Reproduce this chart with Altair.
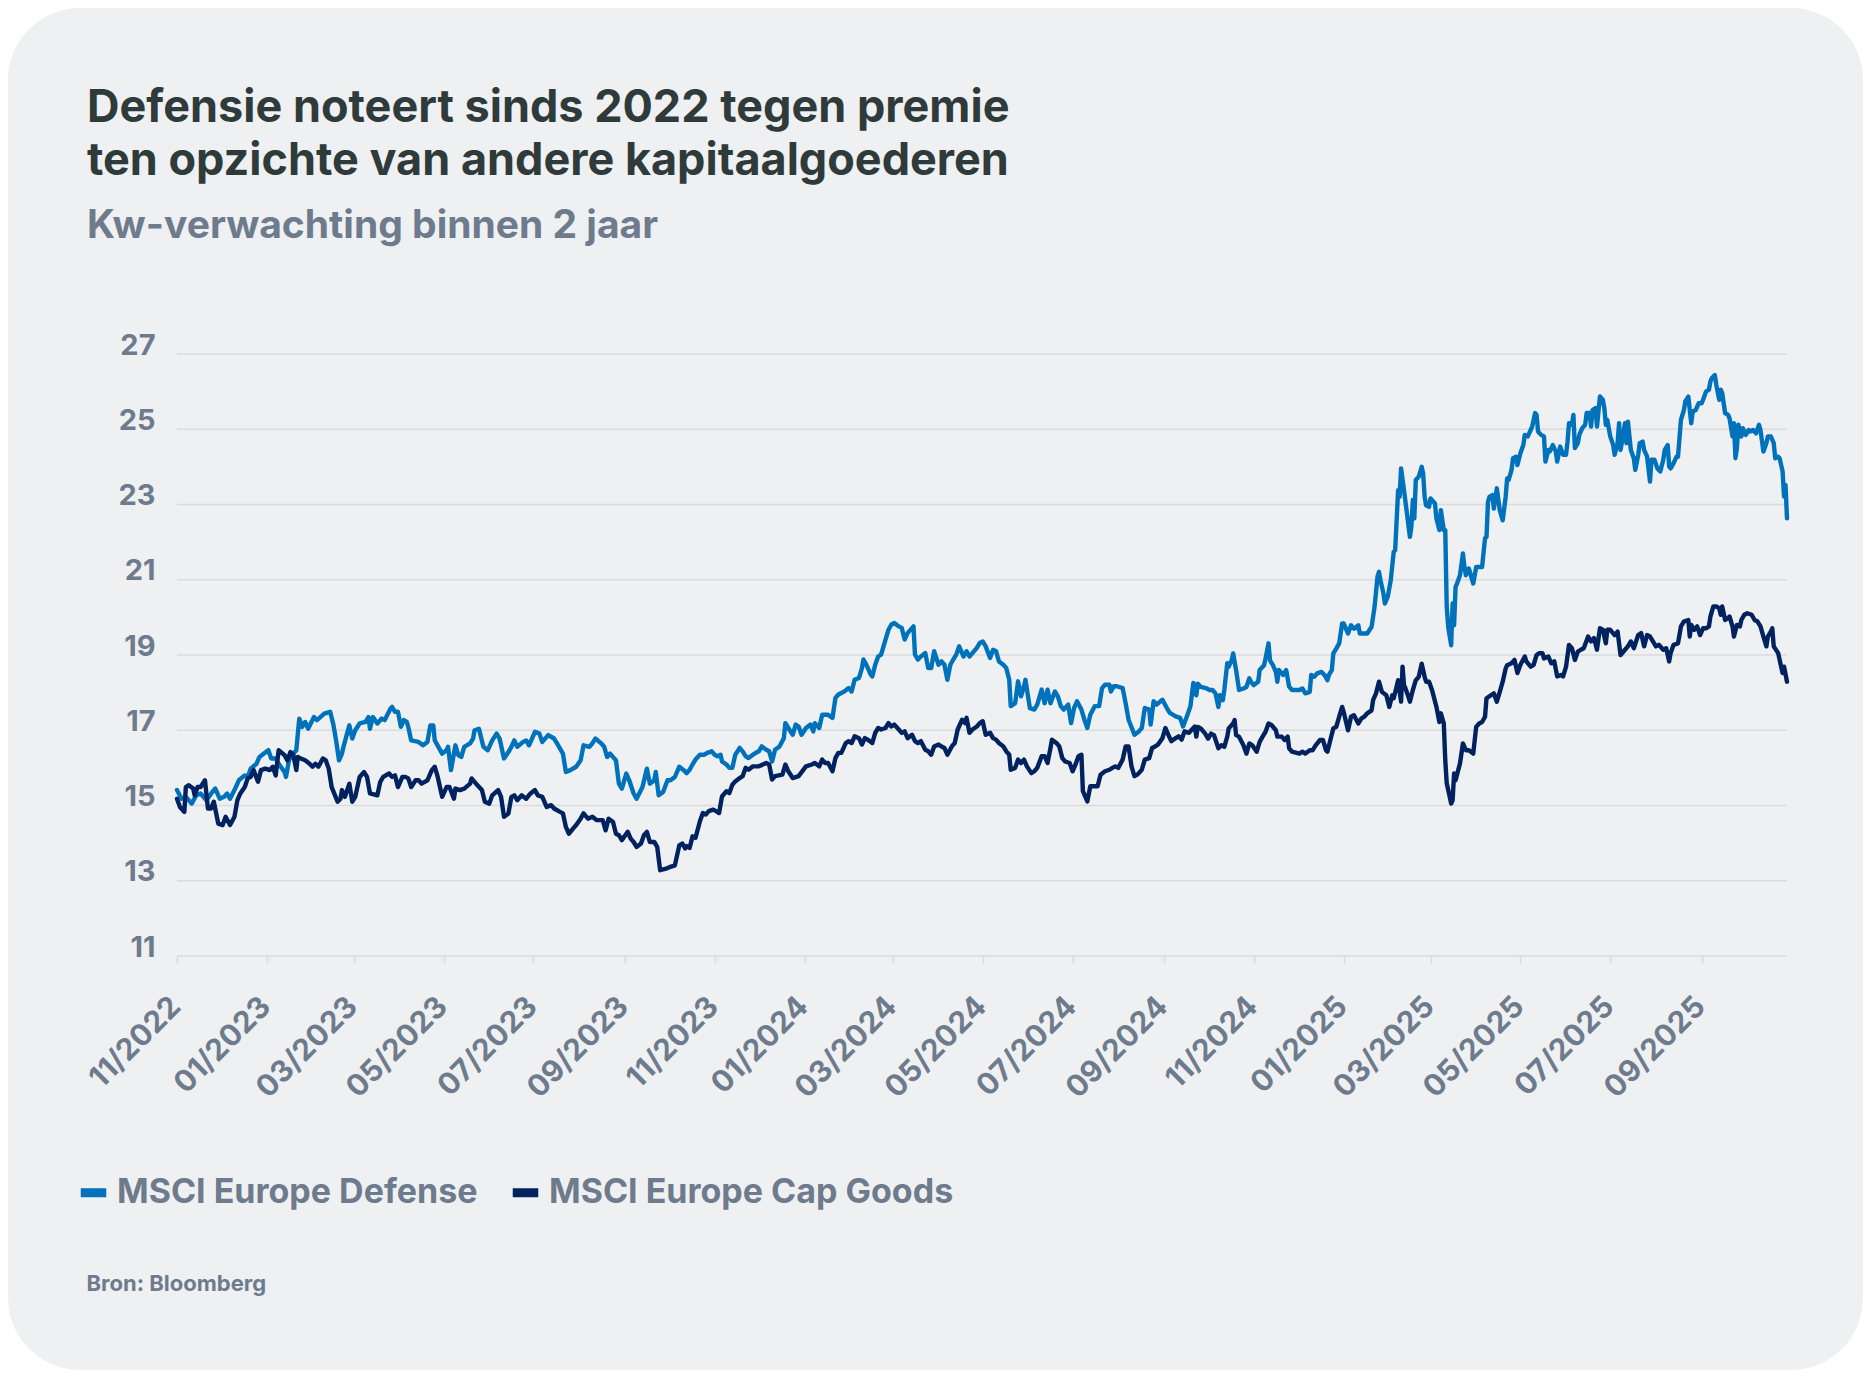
import altair as alt
import pandas as pd

# ---------------- data ----------------
START = "2022-11-01"          # day 0 of the day offsets below
END = "2025-10-29"

# MSCI Europe Defense: days since START, forward P/E
def_day = [
    0, 3, 6, 10, 13, 16, 20, 24, 26, 29,
    32, 34, 36, 39, 42, 46, 48, 50, 54, 56,
    59, 62, 64, 67, 69, 73, 74, 76, 79, 81,
    83, 85, 87, 89, 93, 95, 100, 104, 106, 108,
    110, 112, 113, 117, 119, 121, 124, 128, 130, 131,
    133, 136, 139, 141, 145, 146, 148, 150, 152, 154,
    156, 157, 159, 164, 167, 170, 172, 174, 175, 180,
    183, 184, 186, 189, 191, 193, 195, 199, 201, 202,
    205, 208, 211, 214, 217, 219, 222, 225, 227, 229,
    231, 235, 237, 239, 243, 246, 248, 252, 256, 258,
    262, 264, 267, 271, 274, 276, 280, 282, 284, 288,
    290, 292, 294, 298, 300, 302, 305, 307, 310, 312,
    316, 319, 321, 324, 325, 327, 330, 333, 335, 338,
    341, 344,
    346, 348, 350, 352, 355, 358, 360, 363, 365, 367,
    369, 370, 373, 375, 377, 379, 382, 384, 386, 388,
    391, 393, 395, 397, 400, 402, 404, 406, 409, 412,
    413, 415, 418, 420, 422, 424, 427, 430, 432, 433,
    436, 438, 440, 442, 445, 447, 449, 453, 456, 458,
    460, 463, 465, 466, 468, 471, 472, 474, 476, 478,
    481, 483, 485, 487, 490, 492, 494, 496, 500, 501,
    503, 505, 508, 510, 512, 514, 517, 519, 521, 523,
    525, 527, 529, 531, 534, 536, 538, 540, 543, 545,
    547, 549, 552, 554, 556, 558, 561, 563, 565, 566,
    569, 571, 573, 575, 576, 579, 582, 584, 587, 589,
    591, 593, 596, 598, 600, 602, 605, 607, 609, 611,
    614, 616, 618, 620, 623, 626, 628, 630, 633, 634,
    636, 638, 642, 644, 646, 650, 653, 655, 657, 660,
    661, 663, 665, 669, 672, 674, 678, 681, 683, 686,
    688, 690,
    692, 693, 695, 699, 701, 703, 705, 707, 708, 710,
    711, 713, 714, 716, 717, 719, 721, 724, 726, 728,
    729, 731, 734, 735, 738, 739, 741, 742, 744, 746,
    747, 748, 751, 753, 755, 757, 762, 764, 766, 769,
    770, 772, 774, 777, 779, 781, 782, 784, 785, 787,
    789, 791, 792, 795, 797, 799, 802, 803, 805, 808,
    811, 813, 815, 816, 817, 819, 820, 822, 824, 826,
    827, 829, 830, 831, 833, 835, 837, 838, 839, 840,
    841, 843, 845, 846, 847, 848, 850, 851, 854, 855,
    857, 858, 860, 861, 862, 863, 865, 866, 867, 868,
    869, 871, 873, 874, 875, 877, 880, 882, 884, 886,
    888, 889, 890, 891, 893, 894, 896, 898, 900, 902,
    903,
    904, 906, 907, 909, 910, 912, 914, 915, 917, 919,
    920, 922, 923, 924, 926, 928, 929, 931, 932, 934,
    936, 937, 939, 941, 943, 944, 945, 947, 948, 949,
    951, 952, 954, 956, 957, 959, 960, 961, 963, 964,
    966, 968, 969, 970, 971, 973, 975, 976, 978, 979,
    980, 981, 983, 984, 985, 987, 989, 990, 992, 993,
    995, 996, 998, 1000, 1001, 1003, 1005, 1007, 1009, 1010,
    1012, 1013, 1014, 1016, 1018, 1019, 1021, 1023, 1024, 1026,
    1027, 1028, 1029, 1031, 1033, 1035, 1036, 1038, 1040, 1041,
    1042, 1044, 1045, 1047, 1048, 1049, 1051, 1053, 1054, 1056,
    1057, 1058, 1059, 1060, 1062, 1063, 1065, 1067, 1068, 1070,
    1072, 1074, 1075, 1077, 1079, 1080, 1082, 1084, 1085, 1087,
    1088, 1090, 1091, 1092, 1093,
]
def_val = [
    15.41, 15.18, 15.23, 15.05, 15.27, 15.32, 15.14, 15.36, 15.45, 15.18,
    15.23, 15.32, 15.18, 15.41, 15.67, 15.80, 15.76, 15.98, 16.11, 16.29,
    16.38, 16.47, 16.25, 16.25, 16.11, 15.89, 15.76, 16.20, 16.38, 16.47,
    17.31, 17.09, 17.22, 17.04, 17.35, 17.27, 17.44, 17.49, 17.18, 16.73,
    16.20, 16.38, 16.56, 17.13, 16.78, 17.00, 17.18, 17.22, 17.35, 17.04,
    17.35, 17.18, 17.31, 17.27, 17.58, 17.62, 17.49, 17.49, 17.09, 17.27,
    17.22, 17.09, 16.73, 16.69, 16.60, 16.69, 17.13, 17.13, 16.73, 16.38,
    16.47, 16.56, 15.94, 16.60, 16.34, 16.29, 16.56, 16.65, 16.78, 17.00,
    17.04, 16.56, 16.47, 16.73, 16.91, 16.78, 16.25, 16.42, 16.56, 16.73,
    16.56, 16.69, 16.73, 16.60, 16.96, 16.91, 16.69, 16.87, 16.78, 16.65,
    16.38, 15.89, 15.94, 16.03, 16.20, 16.60, 16.56, 16.65, 16.78, 16.65,
    16.56, 16.29, 16.38, 16.20, 15.58, 15.45, 15.85, 15.67, 15.32, 15.18,
    15.49, 15.98, 15.58, 15.67, 15.89, 15.27, 15.36, 15.67, 15.67, 15.76,
    16.03, 15.94,
    15.86, 15.95, 16.09, 16.22, 16.35, 16.35, 16.40, 16.44, 16.35, 16.31,
    16.35, 16.17, 16.09, 16.00, 16.00, 16.35, 16.53, 16.44, 16.31, 16.26,
    16.35, 16.40, 16.44, 16.57, 16.48, 16.44, 16.17, 16.48, 16.57, 16.79,
    17.19, 17.06, 16.88, 17.15, 17.10, 16.88, 17.06, 17.15, 16.97, 17.19,
    17.06, 17.41, 17.41, 17.41, 17.33, 17.86, 17.95, 18.03, 18.12, 18.03,
    18.34, 18.39, 18.65, 18.88, 18.74, 18.48, 18.43, 18.74, 18.96, 19.01,
    19.41, 19.67, 19.81, 19.85, 19.76, 19.72, 19.41, 19.58, 19.76, 19.01,
    18.88, 18.96, 19.05, 18.65, 18.65, 19.10, 18.74, 18.83, 18.74, 18.34,
    18.74, 18.88, 19.01, 19.23, 18.96, 19.10, 18.96, 19.05, 19.19, 19.32,
    19.36, 19.23, 18.92, 19.14, 19.10, 18.83, 18.74, 18.65, 18.34, 17.64,
    17.72, 18.30, 17.90, 18.17, 18.34, 17.59, 17.55, 17.68, 18.08, 17.72,
    18.08, 17.72, 18.03, 17.90, 17.64, 17.55, 17.68, 17.19, 17.59, 17.77,
    17.55, 17.28, 17.06, 17.41, 17.64, 17.64, 18.12, 18.21, 18.21, 18.03,
    18.17, 18.17, 18.12, 17.72, 17.28, 16.88, 16.97, 17.06, 17.59, 17.55,
    17.15, 17.77, 17.68, 17.81, 17.59, 17.46, 17.37, 17.33, 17.10, 17.41,
    17.64, 18.26,
    17.93, 18.24, 18.15, 18.11, 18.07, 18.07, 17.98, 17.62, 17.93, 17.80,
    18.07, 18.78, 18.69, 18.86, 19.04, 18.60, 18.07, 18.11, 18.15, 18.38,
    18.29, 18.20, 18.29, 18.60, 18.73, 18.91, 19.31, 18.86, 18.73, 18.55,
    18.29, 18.60, 18.47, 18.60, 18.16, 18.07, 18.07, 18.11, 17.98, 18.02,
    18.47, 18.42, 18.51, 18.55, 18.47, 18.33, 18.47, 18.60, 19.04, 19.17,
    19.31, 19.84, 19.84, 19.57, 19.79, 19.70, 19.79, 19.57, 19.57, 19.57,
    19.75, 20.28, 21.08, 21.21, 20.99, 20.64, 20.37, 20.55, 20.99, 21.74,
    21.79, 23.38, 23.20, 23.96, 23.38, 22.76, 22.14, 22.41, 23.12, 22.63,
    23.65, 23.74, 24.00, 23.82, 23.20, 22.98, 22.94, 23.16, 23.03, 22.63,
    22.32, 22.85, 22.32, 22.32, 20.28, 19.75, 19.26, 20.37, 19.79, 20.81,
    20.90, 21.12, 21.70, 21.34, 21.12, 21.30, 20.90, 21.34, 21.34, 21.34,
    22.10, 22.14, 23.07, 23.20, 23.25, 22.89, 23.43, 22.85, 22.58, 23.20,
    23.69,
    23.65, 23.92, 24.23, 24.27, 24.05, 24.36, 24.58, 24.85, 24.81, 24.98,
    25.07, 25.43, 25.38, 24.94, 24.85, 24.81, 24.14, 24.45, 24.41, 24.58,
    24.41, 24.14, 24.54, 24.32, 24.32, 24.67, 25.16, 25.12, 25.38, 24.50,
    24.63, 24.85, 25.03, 25.12, 25.43, 25.43, 25.07, 25.51, 25.56, 25.07,
    25.87, 25.78, 25.56, 25.12, 25.25, 24.81, 24.58, 24.32, 24.63, 25.16,
    24.45, 24.67, 25.16, 24.63, 25.20, 24.45, 24.23, 23.92, 24.32, 24.63,
    24.67, 24.45, 24.27, 23.61, 24.19, 24.19, 23.96, 23.88, 24.19, 24.45,
    24.58, 24.01, 23.96, 24.10, 24.27, 24.27, 25.25, 25.51, 25.74, 25.87,
    25.51, 25.16, 25.47, 25.51, 25.69, 25.69, 25.78, 26.00, 26.05, 26.27,
    26.36, 26.44, 26.18, 25.78, 26.05, 25.96, 25.43, 25.38, 25.29, 24.81,
    25.16, 24.23, 24.50, 25.12, 24.81, 25.03, 24.85, 24.98, 24.94, 24.98,
    24.89, 25.12, 24.98, 24.41, 24.63, 24.81, 24.81, 24.63, 24.23, 24.27,
    24.23, 23.88, 23.21, 23.52, 22.63,
]

# MSCI Europe Cap Goods: days since START, forward P/E
cap_day = [
    0, 2, 4, 5, 6, 8, 11, 12, 14, 16,
    19, 21, 23, 25, 28, 31, 33, 36, 39, 41,
    43, 46, 48, 50, 52, 55, 57, 60, 63, 65,
    67, 69, 73, 75, 77, 79, 81, 82, 84, 87,
    90, 92, 94, 96, 99, 101, 103, 105, 109, 111,
    112, 114, 117, 119, 121, 124, 127, 129, 131, 136,
    138, 140, 144, 146, 148, 150, 153, 155, 157, 159,
    162, 164, 166, 170, 173, 175, 177, 180, 183, 185,
    188, 189, 192, 195, 199, 200, 203, 207, 209, 212,
    214, 218, 220, 222, 225, 227, 229, 231, 234, 237,
    240, 243, 245, 248, 251, 254, 256, 260, 262, 264,
    266, 269, 271, 274, 276, 279, 282, 285, 289, 291,
    293, 296, 298, 300, 302, 306, 308, 310, 312, 315,
    317, 319, 321, 324, 326, 328, 332, 335, 338, 341,
    343, 345,
    346, 348, 350, 352, 355, 357, 359, 361, 364, 366,
    368, 370, 373, 375, 377, 379, 382, 384, 386, 388,
    391, 395, 400, 402, 404, 406, 411, 413, 415, 418,
    422, 427, 431, 433, 436, 438, 440, 442, 445, 447,
    449, 451, 454, 456, 458, 460, 463, 465, 467, 469,
    472, 474, 476, 478, 481, 483, 485, 487, 490, 492,
    494, 496, 499, 501, 503, 505, 508, 510, 512, 514,
    517, 519, 521, 523, 526, 528, 530, 533, 535, 536,
    538, 540, 543, 545, 547, 549, 552, 554, 556, 558,
    561, 563, 565, 566, 569, 571, 573, 575, 577, 580,
    582, 584, 587, 589, 591, 593, 594, 597, 599, 601,
    603, 606, 608, 610, 612, 614, 615, 617, 618, 620,
    623, 625, 627, 630, 633, 635, 637, 639, 642, 644,
    646, 648, 650, 652, 655, 657, 660, 662, 664, 666,
    669, 671, 673, 675, 678, 680, 682, 684, 687, 689,
    691,
    692, 693, 695, 698, 700, 702, 704, 707, 709, 711,
    713, 714, 717, 718, 719, 721, 724, 726, 728, 730,
    733, 735, 737, 739, 741, 743, 746, 747, 750, 752,
    754, 755, 757, 762, 764, 766, 769, 771, 773, 776,
    778, 780, 781, 783, 785, 787, 789, 791, 792, 795,
    797, 799, 802, 804, 806, 808, 811, 812, 814, 816,
    818, 821, 823, 825, 826, 828, 829, 831, 832, 833,
    834, 836, 837, 839, 841, 843, 845, 847, 848, 850,
    852, 855, 857, 858, 860, 861, 862, 864, 865, 866,
    867, 868, 871, 873, 875, 877, 880, 882, 884, 886,
    888, 889, 892, 894, 896, 898, 900, 902, 903,
    906, 908, 910, 912, 915, 916, 919, 921, 923, 925,
    927, 928, 931, 933, 935, 937, 940, 941, 943, 945,
    947, 949, 951, 953, 955, 958, 960, 962, 964, 966,
    968, 970, 971, 973, 976, 978, 980, 983, 985, 987,
    989, 992, 994, 996, 998, 1000, 1002, 1004, 1006, 1009,
    1011, 1013, 1014, 1016, 1019, 1021, 1023, 1026, 1027, 1028,
    1030, 1032, 1034, 1036, 1038, 1040, 1041, 1043, 1045, 1047,
    1048, 1049, 1051, 1053, 1054, 1056, 1057, 1059, 1061, 1062,
    1064, 1066, 1069, 1071, 1073, 1075, 1077, 1079, 1080, 1082,
    1083, 1084, 1087, 1088, 1090, 1091, 1093,
]
cap_val = [
    15.18, 14.96, 14.87, 14.83, 15.49, 15.54, 15.45, 15.27, 15.49, 15.49,
    15.67, 14.92, 14.92, 15.10, 14.52, 14.48, 14.70, 14.48, 14.70, 15.14,
    15.32, 15.49, 15.72, 15.76, 15.94, 15.63, 15.94, 15.98, 15.94, 16.03,
    15.80, 16.47, 16.34, 16.20, 16.42, 16.34, 15.94, 16.29, 16.25, 16.20,
    16.11, 16.03, 16.11, 16.03, 16.25, 16.20, 15.98, 15.49, 15.10, 15.18,
    15.41, 15.23, 15.58, 15.10, 15.23, 15.76, 15.89, 15.76, 15.32, 15.27,
    15.63, 15.76, 15.85, 15.76, 15.80, 15.49, 15.76, 15.76, 15.72, 15.49,
    15.67, 15.67, 15.58, 15.67, 15.94, 16.03, 15.76, 15.23, 15.49, 15.49,
    15.18, 15.45, 15.41, 15.45, 15.58, 15.72, 15.58, 15.41, 15.10, 15.05,
    15.27, 15.41, 15.23, 14.70, 14.79, 15.23, 15.27, 15.14, 15.27, 15.18,
    15.32, 15.41, 15.27, 15.23, 14.96, 15.01, 14.92, 14.83, 14.79, 14.43,
    14.25, 14.39, 14.48, 14.65, 14.79, 14.65, 14.70, 14.61, 14.61, 14.34,
    14.65, 14.56, 14.25, 14.21, 14.08, 14.30, 14.12, 14.03, 13.90, 13.99,
    14.21, 14.30, 14.03, 14.03, 13.90, 13.28, 13.32, 13.37, 13.41, 13.94,
    13.99, 13.86,
    13.92, 13.87, 14.18, 14.14, 14.58, 14.80, 14.76, 14.85, 14.89, 14.85,
    14.80, 15.24, 15.38, 15.33, 15.55, 15.64, 15.73, 15.78, 16.00, 15.95,
    16.04, 16.04, 16.13, 16.09, 15.69, 15.78, 15.82, 16.09, 15.91, 15.73,
    15.78, 16.04, 16.09, 16.13, 16.04, 16.22, 16.13, 16.13, 15.91, 16.26,
    16.40, 16.40, 16.66, 16.71, 16.66, 16.84, 16.79, 16.62, 16.79, 16.75,
    16.66, 16.93, 17.06, 17.02, 17.06, 17.19, 17.10, 17.15, 17.02, 16.93,
    16.97, 16.79, 16.88, 16.71, 16.66, 16.71, 16.48, 16.44, 16.35, 16.57,
    16.62, 16.57, 16.53, 16.35, 16.57, 16.66, 17.02, 17.28, 17.19, 17.33,
    16.93, 17.02, 17.10, 17.19, 17.24, 16.88, 16.93, 16.79, 16.75, 16.66,
    16.57, 16.44, 16.35, 15.95, 16.00, 16.22, 16.13, 16.22, 16.04, 15.86,
    15.91, 16.00, 16.31, 16.31, 16.13, 16.53, 16.75, 16.66, 16.57, 16.26,
    16.17, 16.13, 15.91, 16.09, 16.31, 16.35, 15.38, 15.20, 15.11, 15.51,
    15.51, 15.51, 15.82, 15.91, 15.95, 16.00, 16.04, 16.00, 16.22, 16.57,
    16.57, 16.04, 15.78, 15.82, 15.95, 16.22, 16.26, 16.53, 16.57, 16.62,
    16.79, 17.06, 16.88, 16.71, 16.79, 16.84, 16.75, 16.97, 16.93, 17.02,
    17.10,
    16.83, 17.09, 17.05, 16.91, 16.78, 16.91, 16.87, 16.52, 16.60, 16.56,
    16.83, 17.05, 17.18, 17.27, 16.87, 16.83, 16.60, 16.38, 16.65, 16.60,
    16.43, 16.69, 16.83, 16.96, 17.18, 17.14, 17.00, 16.83, 16.83, 16.74,
    16.83, 16.52, 16.43, 16.38, 16.43, 16.38, 16.47, 16.47, 16.60, 16.74,
    16.74, 16.47, 16.43, 16.74, 17.05, 17.09, 17.36, 17.62, 17.49, 17.00,
    17.36, 17.40, 17.18, 17.31, 17.36, 17.45, 17.53, 17.80, 17.98, 18.29,
    18.02, 17.93, 17.62, 17.93, 17.85, 18.16, 18.33, 17.76, 18.69, 18.20,
    18.11, 17.89, 17.76, 18.07, 18.33, 18.42, 18.77, 18.42, 18.29, 18.29,
    18.07, 17.62, 17.22, 17.45, 17.18, 16.21, 15.59, 15.24, 15.05, 15.14,
    15.85, 15.67, 16.12, 16.65, 16.47, 16.47, 16.38, 17.09, 17.18, 17.22,
    17.36, 17.85, 17.93, 17.98, 17.76, 18.02, 18.29, 18.64, 18.73,
    18.78, 18.87, 18.52, 18.74, 18.96, 18.83, 18.69, 18.74, 19.00, 19.05,
    19.05, 18.91, 18.96, 18.78, 18.83, 18.43, 18.47, 18.43, 18.69, 19.27,
    19.18, 18.87, 19.09, 19.14, 19.18, 19.49, 19.36, 19.45, 19.14, 19.71,
    19.67, 19.31, 19.67, 19.67, 19.53, 19.62, 19.00, 19.14, 19.23, 19.36,
    19.18, 19.53, 19.58, 19.23, 19.53, 19.49, 19.36, 19.23, 19.27, 19.14,
    19.18, 18.83, 19.05, 19.27, 19.31, 19.76, 19.89, 19.93, 19.49, 19.80,
    19.67, 19.76, 19.53, 19.71, 19.71, 19.76, 20.02, 20.29, 20.29, 20.24,
    20.07, 20.29, 19.93, 19.98, 20.02, 19.76, 19.49, 19.80, 19.76, 19.93,
    20.07, 20.11, 20.07, 19.93, 19.89, 19.76, 19.49, 19.23, 19.49, 19.62,
    19.71, 19.23, 19.05, 18.87, 18.52, 18.69, 18.29,
]

series_names = ["MSCI Europe Defense", "MSCI Europe Cap Goods"]
series_colors = ["#0072bb", "#00235f"]
y_ticks = [11, 13, 15, 17, 19, 21, 23, 25, 27]
x_ticks = ["2022-11-01", "2023-01-01", "2023-03-01", "2023-05-01", "2023-07-01",
           "2023-09-01", "2023-11-01", "2024-01-01", "2024-03-01", "2024-05-01",
           "2024-07-01", "2024-09-01", "2024-11-01", "2025-01-01", "2025-03-01",
           "2025-05-01", "2025-07-01", "2025-09-01"]
title_lines = ["Defensie noteert sinds 2022 tegen premie",
               "ten opzichte van andere kapitaalgoederen"]
subtitle_text = "Kw-verwachting binnen 2 jaar"
source_text = "Bron: Bloomberg"

assert len(def_day) == len(def_val), (len(def_day), len(def_val))
assert len(cap_day) == len(cap_val), (len(cap_day), len(cap_val))

# ---------------- styling ----------------
FONT = "Inter"
CARD = "#eff0f2"
GRID = "#d8dbe0"
GREY = "#6d7b8d"
DARK = "#2f3b3b"

W, H = 1610, 602
PAD = {"left": 169, "top": 346, "right": 76, "bottom": 414}


def frame(days, vals, name):
    d = pd.Timestamp(START) + pd.to_timedelta(days, unit="D")
    return pd.DataFrame({"date": d.strftime("%Y-%m-%d"), "value": vals, "series": name})


def to_dt(s):
    t = pd.Timestamp(s)
    return alt.DateTime(year=t.year, month=t.month, date=t.day, utc=True)


def_df = frame(def_day, def_val, series_names[0])
cap_df = frame(cap_day, cap_val, series_names[1])
grid_df = pd.DataFrame({"value": y_ticks})

x_scale = alt.Scale(type="utc", domain=[to_dt(START), to_dt(END)], nice=False)
y_scale = alt.Scale(domain=[y_ticks[0], y_ticks[-1]], nice=False, zero=False)

x_axis = alt.Axis(
    values=[to_dt(s) for s in x_ticks], format="%m/%Y", labelAngle=-45,
    labelFont=FONT, labelFontSize=30, labelFontWeight=700, labelColor=GREY,
    labelPadding=28, labelOffset=-12, labelOverlap=False, labelFlush=False,
    labelBound=False,
    grid=False, domain=False, ticks=True, tickSize=7, tickColor=GRID, tickWidth=1.5,
    title=source_text, titleFont=FONT, titleFontSize=22, titleFontWeight=700,
    titleColor=GREY, titleX=-91, titleY=334, titleAlign="left",
    titleBaseline="alphabetic", titleAngle=0, zindex=1,
)
y_axis = alt.Axis(
    values=y_ticks, labelFont=FONT, labelFontSize=29, labelFontWeight=700,
    labelColor=GREY, labelPadding=22, labelBaseline="alphabetic",
    grid=False, domain=False, ticks=False, title=None, zindex=1,
)
legend = alt.Legend(
    orient="none", legendX=-101, legendY=821, direction="horizontal", title=None,
    labelFont=FONT, labelFontSize=34, labelFontWeight=700, labelColor=GREY,
    symbolType="stroke", symbolStrokeWidth=9, symbolSize=650, labelOffset=6,
    columnPadding=16, padding=0, labelLimit=0, zindex=1,
)
color = alt.Color("series:N", scale=alt.Scale(domain=series_names, range=series_colors),
                  legend=legend)

card = alt.Chart(pd.DataFrame({"card": [1]})).mark_rect(
    color=CARD, cornerRadius=72
).encode(
    x=alt.value(-PAD["left"]), x2=alt.value(W + PAD["right"]),
    y=alt.value(-PAD["top"]), y2=alt.value(H + PAD["bottom"]),
)

grid = alt.Chart(grid_df).mark_rule(color=GRID, strokeWidth=1.5).encode(
    y=alt.Y("value:Q", scale=y_scale, axis=y_axis)
)


def line(df):
    return alt.Chart(df).mark_line(
        strokeWidth=4.4, strokeJoin="round", strokeCap="round"
    ).encode(
        x=alt.X("date:T", scale=x_scale, axis=x_axis),
        y=alt.Y("value:Q", scale=y_scale, axis=y_axis),
        color=color,
    )


chart = alt.layer(card, grid, line(def_df), line(cap_df)).properties(
    width=W, height=H,
    padding=PAD,
    autosize=alt.AutoSizeParams(type="none"),
    background="white",
    title=alt.TitleParams(
        text=title_lines, subtitle=subtitle_text, anchor="start", frame="group",
        dx=-90, offset=-238, font=FONT, fontSize=45, fontWeight=700, color=DARK,
        lineHeight=53, subtitleFont=FONT, subtitleFontSize=39, subtitleFontWeight=700,
        subtitleColor=GREY, subtitlePadding=23, zindex=1,
    ),
).configure_view(stroke=None)

chart.save("out.html", embed_options={"renderer": "svg", "actions": False})
